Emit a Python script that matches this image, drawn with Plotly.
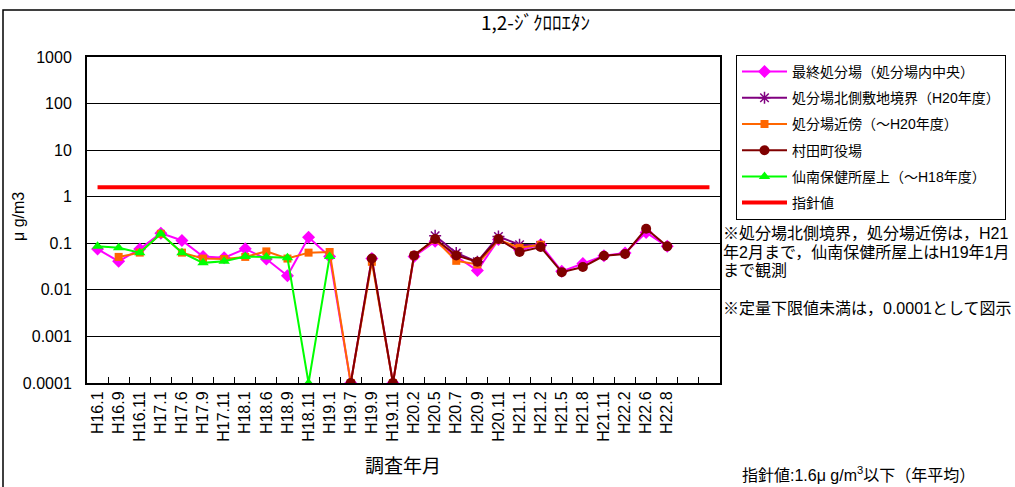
import plotly.graph_objects as go

categories = ["H16.1", "H16.9", "H16.11", "H17.1", "H17.6", "H17.9", "H17.11", "H18.1", "H18.6", "H18.9",
              "H18.11", "H19.1", "H19.7", "H19.9", "H19.11", "H20.2", "H20.5", "H20.7", "H20.9", "H20.11",
              "H21.1", "H21.2", "H21.5", "H21.8", "H21.11", "H22.2", "H22.6", "H22.8", " ", "  "]

saishu = [0.075, 0.041, 0.075, 0.165, 0.115, 0.052, 0.049, 0.076, 0.046, 0.020,
          0.134, 0.052, 0.0001, 0.047, 0.0001, 0.052, 0.11, 0.052, 0.026, 0.12,
          0.072, 0.093, 0.025, 0.037, 0.054, 0.062, 0.17, 0.086, None, None]

kita = [None, None, None, None, None, None, None, None, None, None,
        None, None, None, None, None, None, 0.145, 0.062, 0.040, 0.14,
        0.093, 0.09, None, None, None, None, None, None, None, None]

kinbo = [None, 0.051, 0.063, 0.16, 0.063, 0.047, 0.046, 0.051, 0.067, 0.047,
         0.063, 0.065, 0.0001, 0.040, 0.0001, 0.055, 0.12, 0.042, 0.035, 0.12,
         0.080, 0.093, None, None, None, None, None, None, None, None]

yakuba = [None, None, None, None, None, None, None, None, None, None,
          None, None, 0.0001, 0.047, 0.0001, 0.055, 0.124, 0.055, 0.040, 0.124,
          0.065, 0.083, 0.024, 0.031, 0.054, 0.059, 0.205, 0.086, None, None]

sennan = [0.086, 0.080, 0.063, 0.16, 0.063, 0.038, 0.041, 0.052, 0.051, 0.049,
          0.0001, 0.052, None, None, None, None, None, None, None, None,
          None, None, None, None, None, None, None, None, None, None]

guideline_value = 1.6
guideline = [guideline_value for _ in categories]

ytick_vals = [0.0001, 0.001, 0.01, 0.1, 1, 10, 100, 1000]
ytick_text = ["0.0001", "0.001", "0.01", "0.1", "1", "10", "100", "1000"]

JP = "Liberation Sans, Noto Sans CJK JP"

# plot area in screen pixels
L, R, T, B = 87, 720, 57, 383
W, H = 1015, 487


def px(x):
    return (x - L) / (R - L)


def py(y):
    return (B - y) / (B - T)


fig = go.Figure()
series = [
    ("最終処分場（処分場内中央）", saishu, "#FF00FF", "diamond", 10),
    ("処分場北側敷地境界（H20年度）", kita, "#800080", "asterisk-open", 10),
    ("処分場近傍（～H20年度）", kinbo, "#FF6600", "square", 8),
    ("村田町役場", yakuba, "#800000", "circle", 10),
    ("仙南保健所屋上（～H18年度）", sennan, "#00FF00", "triangle-up", 10),
]
for i, (name, vals, col, sym, size) in enumerate(series):
    mk = dict(color=col, symbol=sym, size=size)
    if sym == "asterisk-open":
        mk["line"] = dict(color=col, width=1.5)
    fig.add_trace(go.Scatter(
        x=categories, y=vals, name=name, mode="lines+markers",
        line=dict(color=col, width=2), marker=mk, connectgaps=False,
        legendgroup=f"g{i}"))

fig.add_trace(go.Scatter(
    x=categories, y=guideline, name="指針値", mode="lines",
    line=dict(color="#FF0000", width=4), legendgroup="g5"))

fig.update_layout(
    width=W, height=H,
    margin=dict(l=L, r=W - R, t=T, b=H - B, autoexpand=False),
    paper_bgcolor="white", plot_bgcolor="white",
    font=dict(family=JP, size=14, color="black"),
    showlegend=True,
    legend=dict(x=px(736), y=py(55), xanchor="left", yanchor="top",
                bordercolor="black", borderwidth=1, bgcolor="white",
                font=dict(family=JP, size=14, color="black"),
                traceorder="grouped", tracegroupgap=5, itemwidth=45),
)

fig.update_xaxes(
    type="category", categoryorder="array", categoryarray=categories,
    tickangle=-90, tickfont=dict(family="Liberation Sans", size=16, color="black"),
    showline=True, linecolor="black", linewidth=2, mirror=True,
    ticks="inside", ticklen=6, tickcolor="black", tickson="boundaries",
    showgrid=False, range=[-0.5, len(categories) - 0.5], automargin=False)

fig.update_yaxes(
    type="log", range=[-4, 3], tickvals=ytick_vals, ticktext=ytick_text,
    tickfont=dict(family="Liberation Sans", size=16, color="black"),
    showline=True, linecolor="black", linewidth=2, mirror=True,
    showgrid=True, gridcolor="black", gridwidth=1, ticks="", zeroline=False,
    ticklabelstandoff=10, automargin=False)

annotations = [
    dict(text="1,2-ｼﾞｸﾛﾛｴﾀﾝ", x=535, y=22, xanchor="center", font=dict(size=19, family="Noto Sans CJK JP")),
    dict(text="調査年月", x=403, y=466, xanchor="center", font=dict(size=19)),
    dict(text="μ g/m3", x=18, y=217, xanchor="center", textangle=-90, font=dict(size=16)),
    dict(text="指針値:1.6μ g/m<sup>3</sup>以下（年平均）", x=740, y=474, xanchor="left", font=dict(size=16)),
    dict(text="※処分場北側境界，処分場近傍は，H21", x=721, y=233, xanchor="left", font=dict(size=16)),
    dict(text="年2月まで，仙南保健所屋上はH19年1月", x=721, y=252, xanchor="left", font=dict(size=16)),
    dict(text="まで観測", x=721, y=270, xanchor="left", font=dict(size=16)),
    dict(text="※定量下限値未満は，0.0001として図示", x=721, y=308, xanchor="left", font=dict(size=16)),
]
for a in annotations:
    fig.add_annotation(text=a["text"], x=px(a["x"]), y=py(a["y"]),
                       xref="paper", yref="paper", showarrow=False,
                       xanchor=a["xanchor"], yanchor="middle",
                       textangle=a.get("textangle", 0), font=a["font"])

fig.add_shape(type="rect", xref="paper", yref="paper",
              x0=px(3), x1=px(1030), y0=py(500), y1=py(10),
              line=dict(color="black", width=1.5), layer="below")

fig.write_html("out.html", config={"displayModeBar": False},
               post_script="document.body.style.margin='0';document.body.style.padding='0';")
